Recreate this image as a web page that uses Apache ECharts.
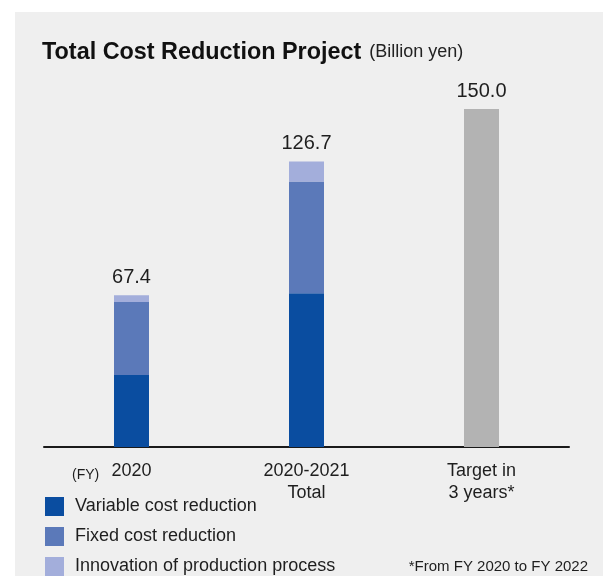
<!DOCTYPE html>
<html>
<head>
<meta charset="utf-8">
<script src="https://cdn.jsdelivr.net/npm/echarts@6/dist/echarts.min.js"></script>
<style>
  html, body { margin: 0; padding: 0; background: #ffffff; width: 603px; height: 576px; overflow: hidden; }
  #main { position: absolute; left: 15px; top: 12px; width: 588px; height: 564px; background: #efefef; }
</style>
</head>
<body>
<div id="main"></div>
<script>
var categories = ['2020', '2020-2021\nTotal', 'Target in\n3 years*'];
var legendNames = ['Variable cost reduction', 'Fixed cost reduction', 'Innovation of production process'];
var variableCost = [31.9, 68.2, null];
var fixedCost = [32.4, 49.6, null];
var innovation = [3.1, 8.9, null];
var target = [null, null, 150.0];
var totals = [67.4, 126.7, 150.0];

var FONT = '"Liberation Sans", Arial, sans-serif';
var TXT = '#1e1e1e';

var chart = echarts.init(document.getElementById('main'), null, { renderer: 'canvas' });

function legendAt(i, top) {
  return {
    orient: 'vertical', left: 30, top: top, padding: 0,
    itemWidth: 19, itemHeight: 19, itemGap: 11, icon: 'rect',
    data: [legendNames[i]],
    textStyle: { fontFamily: FONT, fontSize: 18, color: TXT, padding: [0, 0, 0, 6] }
  };
}

var option = {
  backgroundColor: '#efefef',
  animation: false,
  textStyle: { fontFamily: FONT },
  title: [
    {
      left: 27, top: 29, padding: 0,
      text: '{b|Total Cost Reduction Project}{n|(Billion yen)}',
      textStyle: {
        rich: {
          b: { fontFamily: FONT, fontSize: 23.4, fontWeight: 'bold', color: '#111', padding: [0, 8, 0, 0] },
          n: { fontFamily: FONT, fontSize: 18, fontWeight: 'normal', color: '#222' }
        }
      }
    },
    {
      left: 57, top: 456, padding: 0,
      text: '(FY)',
      textStyle: { fontFamily: FONT, fontSize: 14, fontWeight: 'normal', color: TXT }
    },
    {
      right: 15, top: 547, padding: 0,
      text: '*From FY 2020 to FY 2022',
      textStyle: { fontFamily: FONT, fontSize: 15, fontWeight: 'normal', color: TXT }
    }
  ],
  legend: [legendAt(0, 485), legendAt(1, 515), legendAt(2, 545)],
  grid: { left: 29, right: 34, top: 97, bottom: 129, containLabel: false },
  xAxis: {
    type: 'category',
    data: categories,
    axisLine: { show: true, lineStyle: { color: '#1a1a1a', width: 2 } },
    axisTick: { show: false },
    axisLabel: { fontFamily: FONT, fontSize: 18, lineHeight: 22, color: TXT, margin: 13, interval: 0 }
  },
  yAxis: {
    type: 'value', min: 0, max: 150, show: false,
    splitLine: { show: false }
  },
  series: [
    { name: legendNames[0], type: 'bar', stack: 'a', barWidth: 35, data: variableCost,
      itemStyle: { color: '#0a4da0' } },
    { name: legendNames[1], type: 'bar', stack: 'a', barWidth: 35, data: fixedCost,
      itemStyle: { color: '#5b79b9' } },
    { name: legendNames[2], type: 'bar', stack: 'a', barWidth: 35, data: innovation,
      itemStyle: { color: '#a3aedb' },
      label: { show: true, position: 'top', distance: 8, fontFamily: FONT, fontSize: 20, color: TXT,
        formatter: function (p) { return totals[p.dataIndex].toFixed(1); } } },
    { name: 'Target', type: 'bar', stack: 'a', barWidth: 35, data: target,
      itemStyle: { color: '#b3b3b3' },
      label: { show: true, position: 'top', distance: 8, fontFamily: FONT, fontSize: 20, color: TXT,
        formatter: function (p) { return totals[p.dataIndex].toFixed(1); } } }
  ]
};
chart.setOption(option);
</script>
</body>
</html>
